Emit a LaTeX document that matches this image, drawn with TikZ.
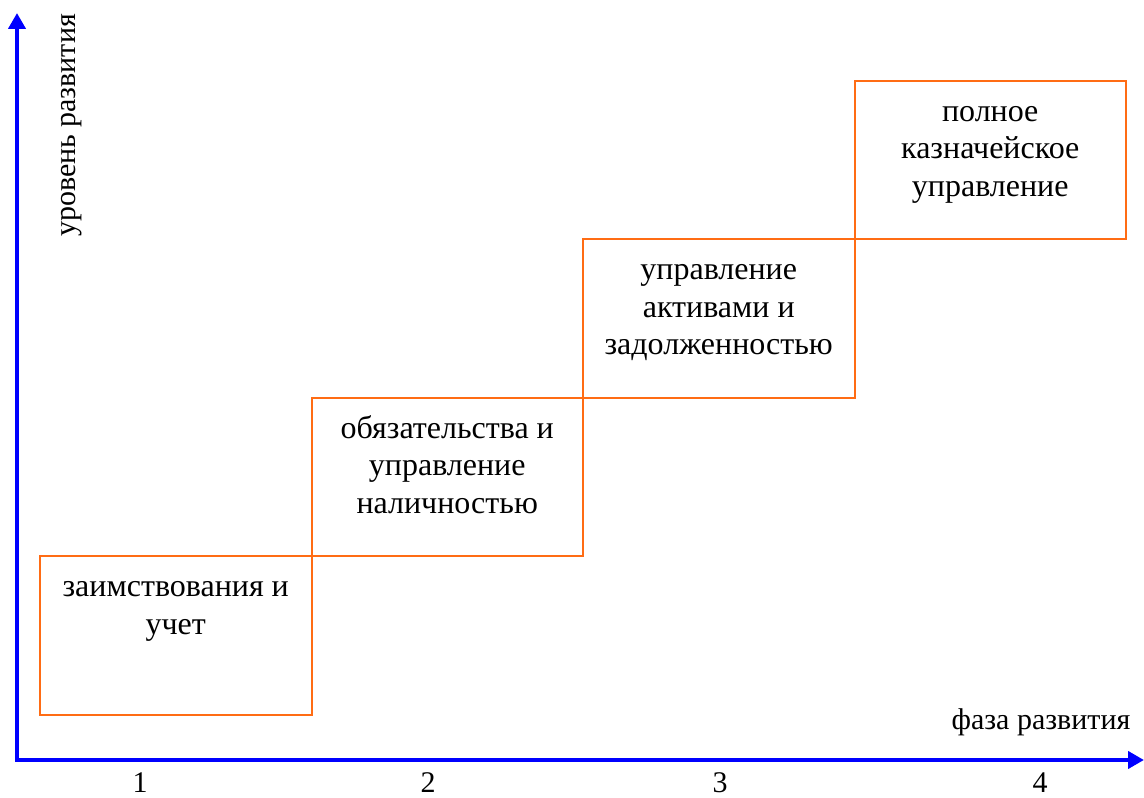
\documentclass[tikz,border=0pt]{standalone}
\usepackage{fontspec}
\setmainfont{Liberation Serif}
\usetikzlibrary{positioning}
\usetikzlibrary{arrows.meta}
\definecolor{stageorange}{RGB}{255,108,20}
\definecolor{axisblue}{RGB}{0,0,255}
\tikzset{
  axis/.style={axisblue,line width=4.5pt},
  stagebox/.style={draw=stageorange,line width=2pt,rectangle,
    minimum width=271.5pt,minimum height=158.5pt,inner sep=0pt,outer sep=0pt},
  stagetext/.style={align=center,inner sep=0pt,
    font=\fontsize{32}{37.5}\selectfont},
  axislabel/.style={inner sep=0pt,anchor=base,font=\fontsize{30}{36}\selectfont},
}

\begin{document}
\begin{tikzpicture}[>={Triangle[width=17pt,length=16pt]},x=1pt,y=1pt]
            \useasboundingbox (0,0) rectangle (1144,798);
            % draw the axis
            \coordinate (o) at (17,38);
            \coordinate (ytip) at (17,785);
            \coordinate (xtip) at (1144,38);
            \draw[axis,<->] (ytip) -- (o) -- (xtip);
            \node[axislabel] (xlab) at (1041,68) {фаза развития};
            \node[axislabel,rotate=90] (ylab) at (75,672.5) {уровень развития};
            \foreach \n/\px in {1/140,2/428,3/720,4/1040}
                \node[axislabel] (ph\n) at (\px,5) {\n};
            % the stages
            \node[stagebox,anchor=south west] (b1) at (40,83) {};
            \node[stagebox,anchor=south west] (b2) at (b1.north east) {};
            \node[stagebox,anchor=south west] (b3) at (b2.north east) {};
            \node[stagebox,anchor=south west] (b4) at (b3.north east) {};
            \node[stagetext,below=13.75pt of b1.north] (t1) {\strut заимствования и\\учет};
            \node[stagetext,below=13.75pt of b2.north] (t2) {\strut обязательства и\\управление\\наличностью};
            \node[stagetext,below=13.75pt of b3.north] (t3) {\strut управление\\активами и\\задолженностью};
            \node[stagetext,below=13.75pt of b4.north] (t4) {\strut полное\\казначейское\\управление};
        \end{tikzpicture}
\end{document}
